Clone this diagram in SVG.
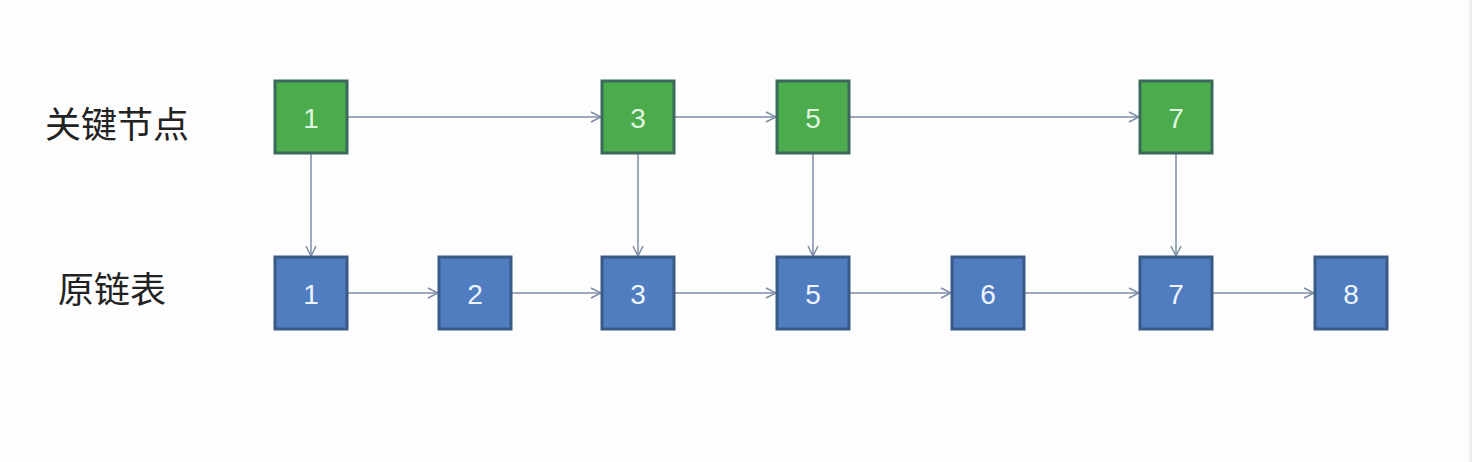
<svg xmlns="http://www.w3.org/2000/svg" width="1472" height="462" viewBox="0 0 1472 462">
<style>
.g rect{fill:#4cab4c;stroke:#3b6a5c;stroke-width:3}
.b rect{fill:#4f7dbf;stroke:#3a5a86;stroke-width:3}
text.n{font-family:"Liberation Sans",Arial,sans-serif;font-size:28px;text-anchor:middle;dominant-baseline:central}
.g text{fill:#dff7df}
.b text{fill:#eef4ff}
.lbl{font-family:"Noto Sans CJK SC",sans-serif;font-size:36px;fill:#222}
.c line{stroke:#7d8ca6;stroke-width:1.5;fill:none}
</style>
<defs>
<marker id="a" viewBox="0 0 12 12" refX="11" refY="6" markerWidth="12" markerHeight="12" markerUnits="userSpaceOnUse" orient="auto">
<path d="M1,1 L11,6 L1,11" fill="none" stroke="#7d8ca6" stroke-width="1.5"/>
</marker>
</defs>
<rect width="1472" height="462" fill="#fdfdfd"/>
<rect x="1469" y="0" width="3" height="462" fill="#f0f0f0"/>
<text class="lbl" x="45" y="138">关键节点</text>
<text class="lbl" x="58" y="303">原链表</text>
<g class="c">
<line x1="348" y1="117" x2="601" y2="117" marker-end="url(#a)"/>
<line x1="675" y1="117" x2="776" y2="117" marker-end="url(#a)"/>
<line x1="850" y1="117" x2="1139" y2="117" marker-end="url(#a)"/>
<line x1="311" y1="154" x2="311" y2="256" marker-end="url(#a)"/>
<line x1="638" y1="154" x2="638" y2="256" marker-end="url(#a)"/>
<line x1="813" y1="154" x2="813" y2="256" marker-end="url(#a)"/>
<line x1="1176" y1="154" x2="1176" y2="256" marker-end="url(#a)"/>
<line x1="348" y1="293" x2="438" y2="293" marker-end="url(#a)"/>
<line x1="512" y1="293" x2="601" y2="293" marker-end="url(#a)"/>
<line x1="675" y1="293" x2="776" y2="293" marker-end="url(#a)"/>
<line x1="850" y1="293" x2="951" y2="293" marker-end="url(#a)"/>
<line x1="1025" y1="293" x2="1139" y2="293" marker-end="url(#a)"/>
<line x1="1213" y1="293" x2="1314" y2="293" marker-end="url(#a)"/>
</g>
<g id="k1" class="g"><rect x="275" y="81" width="72" height="72"/><text class="n" x="311" y="118">1</text></g>
<g id="k3" class="g"><rect x="602" y="81" width="72" height="72"/><text class="n" x="638" y="118">3</text></g>
<g id="k5" class="g"><rect x="777" y="81" width="72" height="72"/><text class="n" x="813" y="118">5</text></g>
<g id="k7" class="g"><rect x="1140" y="81" width="72" height="72"/><text class="n" x="1176" y="118">7</text></g>
<g id="o1" class="b"><rect x="275" y="257" width="72" height="72"/><text class="n" x="311" y="294">1</text></g>
<g id="o2" class="b"><rect x="439" y="257" width="72" height="72"/><text class="n" x="475" y="294">2</text></g>
<g id="o3" class="b"><rect x="602" y="257" width="72" height="72"/><text class="n" x="638" y="294">3</text></g>
<g id="o5" class="b"><rect x="777" y="257" width="72" height="72"/><text class="n" x="813" y="294">5</text></g>
<g id="o6" class="b"><rect x="952" y="257" width="72" height="72"/><text class="n" x="988" y="294">6</text></g>
<g id="o7" class="b"><rect x="1140" y="257" width="72" height="72"/><text class="n" x="1176" y="294">7</text></g>
<g id="o8" class="b"><rect x="1315" y="257" width="72" height="72"/><text class="n" x="1351" y="294">8</text></g>
</svg>
